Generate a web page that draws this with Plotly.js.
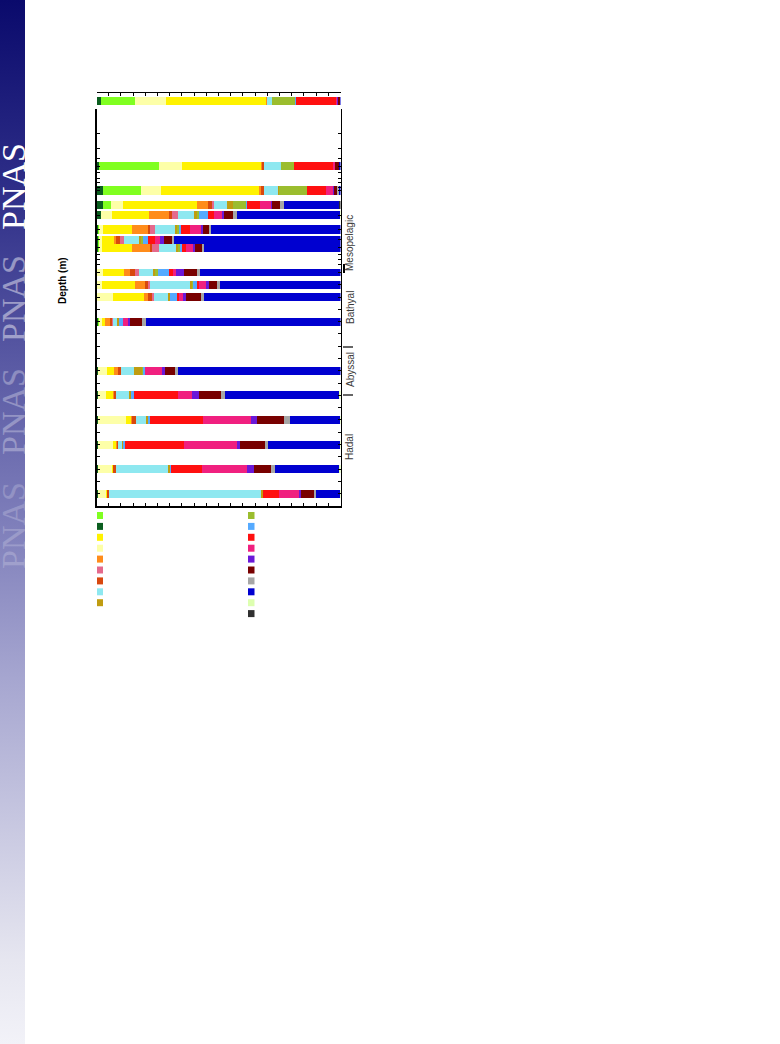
<!DOCTYPE html>
<html><head><meta charset="utf-8">
<script src="https://cdn.plot.ly/plotly-3.0.1.min.js"></script>
<style>
html,body{margin:0;padding:0;background:#fff;}
#band{position:absolute;left:0;top:0;width:25px;height:1044px;
 background:linear-gradient(to bottom,#0a0a6c 0%,#2e2e88 18%,#5a5aa4 35%,#7e7eba 50%,#a6a6d0 65%,#cacae2 80%,#e6e6f0 92%,#f2f2f8 100%);}
#chart{position:absolute;left:0;top:0;width:780px;height:1044px;}
</style></head><body>
<div id="band"></div><div id="chart"></div>
<script>
// sample depths (m); 0 = surface panel
const depths = [0, 50, 100, 150, 200, 300, 400, 500, 1000, 1500, 2000, 3000, 5000, 6000, 7000, 8000, 9000, 10000];

// relative abundance (%) per taxon group, one value per depth (stack order)
const darkGreen  = [1.7, 1.0, 2.6, 2.6, 1.8, 0.5, 0.5, 0.5, 0.4, 0.4, 0.4, 0.5, 0.5, 0.5, 0.5, 0.5, 0.5, 0.5];
const green      = [14.0, 24.7, 15.7, 3.3, 0, 0.5, 0.5, 0.5, 0, 0, 0, 0.4, 0, 0, 0, 0, 0, 0];
const paleYellow = [12.6, 9.4, 8.2, 4.9, 4.5, 1.6, 1.2, 1.2, 2.3, 1.8, 6.3, 1.2, 3.7, 3.3, 11.5, 6.2, 5.7, 3.3];
const yellow     = [41.2, 32.5, 40.2, 30.4, 15.2, 11.9, 4.9, 12.3, 8.6, 13.6, 12.7, 1.2, 2.9, 2.9, 2.1, 1.2, 0.4, 0.5];
const orange     = [0.4, 0.4, 0.8, 4.5, 8.2, 6.6, 0.8, 7.4, 2.5, 4.1, 1.6, 2.1, 1.6, 0.4, 0.4, 0.4, 0, 0];
const darkOrange = [0, 0.8, 1.2, 1.6, 1.2, 0.8, 1.6, 0.8, 2.1, 1.2, 1.6, 0.8, 1.2, 0.8, 1.6, 0.4, 1.2, 0.8];
const pink       = [0, 0, 0, 0.8, 2.5, 2.1, 1.6, 2.9, 1.6, 0.8, 0.8, 0.5, 0, 0, 0, 0, 0, 0];
const cyan       = [2.0, 7.0, 5.8, 5.3, 6.6, 8.2, 6.2, 7.0, 5.7, 16.4, 5.7, 1.9, 5.3, 5.3, 4.1, 1.6, 21.4, 62.2];
const gold       = [0, 0, 0.4, 2.5, 1.2, 0.8, 0.8, 0.8, 0.8, 0.8, 1.2, 0.8, 3.3, 0.8, 0.8, 0.4, 0.8, 0.8];
const olive      = [9.6, 5.3, 11.5, 5.3, 0.8, 0.8, 0.8, 0.8, 1.2, 0.4, 0, 0, 0.4, 0, 0, 0, 0, 0];
const lightBlue  = [0.3, 0, 0, 0.4, 3.7, 0.8, 2.1, 0.8, 4.5, 1.6, 2.5, 1.6, 0.8, 1.2, 0.8, 0.8, 0.4, 0];
const red        = [16.4, 15.8, 7.8, 5.3, 2.5, 3.7, 2.9, 1.6, 1.6, 0.8, 1.2, 0, 0, 18.1, 21.8, 24.2, 12.7, 6.6];
const hotPink    = [0.5, 1.0, 2.9, 4.5, 3.3, 4.5, 2.1, 2.9, 1.2, 2.9, 1.6, 2.1, 7.0, 5.7, 19.7, 21.8, 18.5, 8.2];
const purple     = [0.3, 0, 0.4, 0.4, 0.8, 0.8, 1.6, 0.8, 3.3, 1.2, 1.2, 0.8, 1.2, 2.9, 2.5, 1.2, 2.9, 0.8];
const darkRed    = [0.7, 1.4, 1.2, 3.3, 3.7, 2.5, 3.3, 2.9, 5.3, 3.3, 6.1, 4.9, 4.1, 9.0, 11.1, 10.3, 7.0, 5.6];
const gray       = [0, 0, 0.7, 1.6, 1.6, 0.8, 0.8, 0.8, 1.4, 1.2, 1.2, 1.5, 1.5, 1.9, 2.5, 1.2, 1.6, 0.8];
const blue       = [0.3, 0.7, 0.6, 22.5, 42.0, 53.1, 68.3, 56.0, 57.5, 49.5, 55.9, 79.7, 66.5, 46.4, 20.2, 29.4, 26.1, 9.5];
const paleGreen  = [0, 0, 0, 0, 0.4, 0, 0, 0, 0, 0, 0, 0, 0, 0.8, 0.4, 0.4, 0.8, 0.4];
const darkGray   = [0, 0, 0, 0.8, 0, 0, 0, 0, 0, 0, 0, 0, 0, 0, 0, 0, 0, 0];

const series = [darkGreen, green, paleYellow, yellow, orange, darkOrange, pink, cyan, gold,
                olive, lightBlue, red, hotPink, purple, darkRed, gray, blue, paleGreen, darkGray];
const seriesNames = ['group 1','group 2','group 3','group 4','group 5','group 6','group 7','group 8','group 9',
                     'group 10','group 11','group 12','group 13','group 14','group 15','group 16','group 17','group 18','group 19'];
const colors = ['#0b5e1f','#80ff20','#fdffa8','#fff200','#ff8c1a','#d8480e','#e4698c','#8ee8f0','#c09c10',
                '#9bbd2e','#55aaff','#ff1010','#f0207f','#6a18d8','#780000','#a6a6a6','#0000d0','#ddffb0','#303030'];
// legend columns (indices into series)
const legendLeft  = [1, 0, 3, 2, 4, 6, 5, 7, 8];
const legendRight = [9, 10, 11, 12, 13, 14, 15, 16, 17, 18];

const zoneNames = ['Mesopelagic', 'Bathyal', 'Abyssal', 'Hadal'];

// ---- geometry helpers (page is 780 x 1044) ----
const W = 780, H = 1044;
const px = v => v / W, py = v => 1 - v / H;
const xDom = [px(96.5), px(340.5)];

const panels = [
  {pick: d => d === 0,            xa: 'x3', ya: 'y3', width: d => 1},
  {pick: d => d > 0 && d < 900,   xa: 'x2', ya: 'y2', width: d => d * 0.2261},
  {pick: d => d >= 900,           xa: 'x',  ya: 'y',  width: d => 325}
];

const traces = [];
series.forEach((vals, k) => {
  panels.forEach(p => {
    const idx = depths.map((d, i) => i).filter(i => p.pick(depths[i]));
    traces.push({
      type: 'bar', orientation: 'h', name: seriesNames[k],
      x: idx.map(i => vals[i]), y: idx.map(i => depths[i]),
      width: idx.map(i => p.width(depths[i])),
      xaxis: p.xa, yaxis: p.ya,
      marker: {color: colors[k], line: {width: 0}},
      showlegend: false, hoverinfo: 'skip'
    });
  });
});

const xCommon = {domain: xDom, range: [0, 100], showgrid: false, zeroline: false,
                 showticklabels: false, fixedrange: true};
const yCommon = {showgrid: false, zeroline: false, showticklabels: false, fixedrange: true,
                 showline: true, linecolor: '#000', linewidth: 1.5, mirror: 'allticks',
                 ticks: 'inside', ticklen: 3, tickwidth: 1, tickcolor: '#000'};

const shapes = [];
legendLeft.forEach((k, r) => {
  const y0 = 512 + r * 10.9;
  shapes.push({type: 'rect', xref: 'paper', yref: 'paper', x0: px(97), x1: px(103),
               y0: py(y0 + 7), y1: py(y0), fillcolor: colors[k], line: {width: 0}});
});
legendRight.forEach((k, r) => {
  const y0 = 512 + r * 10.9;
  shapes.push({type: 'rect', xref: 'paper', yref: 'paper', x0: px(248), x1: px(254.5),
               y0: py(y0 + 7), y1: py(y0), fillcolor: colors[k], line: {width: 0}});
});
// zone boundary marks
[347, 395].forEach(yy => shapes.push({type: 'line', xref: 'paper', yref: 'paper',
  x0: px(343), x1: px(353), y0: py(yy), y1: py(yy), line: {color: '#000', width: 1.2}}));
shapes.push({type: 'line', xref: 'paper', yref: 'paper', x0: px(344), x1: px(344),
  y0: py(264), y1: py(273), line: {color: '#000', width: 2}});

const annotations = [];
const zoneY = [243, 308, 370, 447];
zoneNames.forEach((t, i) => annotations.push({
  text: t, xref: 'paper', yref: 'paper', x: px(350), y: py(zoneY[i]),
  xanchor: 'center', yanchor: 'middle', textangle: -90, showarrow: false,
  font: {family: 'Liberation Sans, Arial, sans-serif', size: 10, color: '#3a3a3a'}
}));
annotations.push({
  text: '<b>Depth (m)</b>', xref: 'paper', yref: 'paper', x: px(63), y: py(281),
  xanchor: 'center', yanchor: 'middle', textangle: -90, showarrow: false,
  font: {family: 'Liberation Sans, Arial, sans-serif', size: 10, color: '#000'}
});
const pnasY = [187, 299, 412, 526], pnasOp = [1, 0.45, 0.3, 0.2];
pnasY.forEach((yy, i) => annotations.push({
  text: 'PNAS', xref: 'paper', yref: 'paper', x: px(13), y: py(yy),
  xanchor: 'center', yanchor: 'middle', textangle: -90, showarrow: false, opacity: pnasOp[i],
  font: {family: 'Liberation Serif, Times New Roman, serif', size: 34, color: '#ffffff'}
}));

const layout = {
  width: W, height: H, margin: {l: 0, r: 0, t: 0, b: 0},
  paper_bgcolor: 'rgba(0,0,0,0)', plot_bgcolor: 'rgba(0,0,0,0)',
  barmode: 'stack', showlegend: false,
  font: {family: 'Liberation Sans, Arial, sans-serif'},
  xaxis: Object.assign({}, xCommon, {anchor: 'y', showline: true, linecolor: '#000', linewidth: 2,
         ticks: 'inside', ticklen: 3, tickwidth: 1, tickcolor: '#000', tick0: 0, dtick: 5}),
  xaxis2: Object.assign({}, xCommon, {anchor: 'y2', visible: false}),
  xaxis3: Object.assign({}, xCommon, {anchor: 'y3', side: 'top', showline: true, linecolor: '#000',
         linewidth: 1.5, ticks: 'inside', ticklen: 3, tickwidth: 1, tickcolor: '#000', tick0: 0, dtick: 5}),
  yaxis: Object.assign({}, yCommon, {anchor: 'x', domain: [py(506), py(268)],
         range: [10500, 817], tick0: 0, dtick: 500}),
  yaxis2: Object.assign({}, yCommon, {anchor: 'x2', type: 'log', domain: [py(268), py(109)],
         range: [2.945, 1], dtick: 'D1'}),
  yaxis3: {anchor: 'x3', domain: [py(108), py(93)], range: [0.9375, -0.9375], visible: false, fixedrange: true},
  shapes: shapes, annotations: annotations
};

Plotly.newPlot('chart', traces, layout, {staticPlot: true, displayModeBar: false});
</script></body></html>
